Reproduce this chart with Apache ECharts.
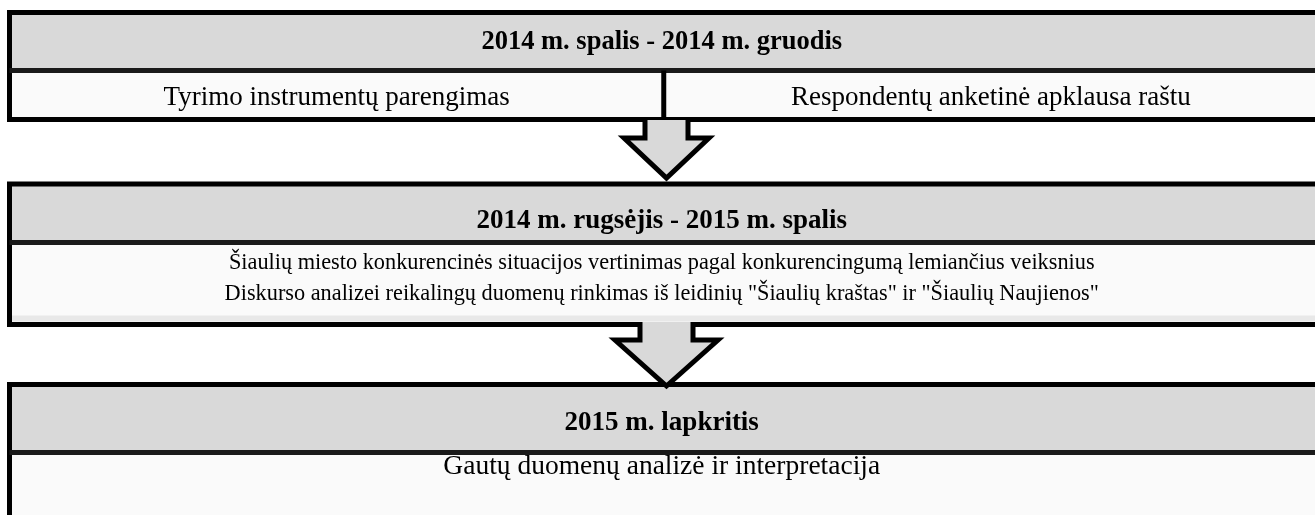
<!DOCTYPE html>
<html><head><meta charset="utf-8">
<script src="https://cdn.jsdelivr.net/npm/echarts@6/dist/echarts.min.js"></script>
<style>html,body{margin:0;padding:0;background:#fff}#c{width:1315px;height:515px}</style>
</head><body><div id="c"></div>
<script>
// ---- content ----
const periods = [
  '2014 m. spalis - 2014 m. gruodis',
  '2014 m. rugsėjis - 2015 m. spalis',
  '2015 m. lapkritis'
];
const stage1Tasks = ['Tyrimo instrumentų parengimas', 'Respondentų anketinė apklausa raštu'];
const stage2Tasks = [
  'Šiaulių miesto konkurencinės situacijos vertinimas pagal konkurencingumą lemiančius veiksnius',
  'Diskurso analizei reikalingų duomenų rinkimas iš leidinių "Šiaulių kraštas" ir "Šiaulių Naujienos"'
];
const stage3Tasks = ['Gautų duomenų analizė ir interpretacija'];
const stageTasks = [stage1Tasks, stage2Tasks, stage3Tasks];
const taskArrangement = ['columns', 'rows', 'rows'];
const arrows = [[0, 1], [1, 2]];

// ---- layout (axis units = px) ----
const L = {
  left: 9.5, right: 1318,
  top: [12.5, 184, 384.5],
  headSep: [70.5, 242.5, 452.5],
  bottom: [119.5, 324.5, 530],
  headTextY: [42.5, 221.5, 423.5],
  rowTextY: [[98], [263, 294], [467]],
  arrowShaft: [[645, 688], [640, 693]],
  arrowHead: [[624, 709], [615, 718]],
  arrowTop: [120, 322],
  arrowShoulder: [138, 340],
  arrowTip: [178, 386],
  arrowX: [666.5, 666.5]
};
// font sizes
const headSize = [26.5, 27, 27];
const rowSize = [[27, 27], [22.3, 22.3], [27.5]];
const FONT = '"Liberation Serif","Times New Roman",serif';
const BORDER = '#000';

function txt(text, x, y, size, bold) {
  return {type: 'text',
    style: {text: text, x: x, y: y, align: 'center', verticalAlign: 'middle',
      font: (bold ? 'bold ' : '') + size + 'px ' + FONT, fill: '#000'}};
}

function renderStage(params, api) {
  const i = api.value(0);
  const c = (x, y) => api.coord([x, y]);
  const [x0, y0] = c(L.left, L.top[i]);
  const [x1, yH] = c(L.right, L.headSep[i]);
  const y1 = c(L.right, L.bottom[i])[1];
  const ch = [];
  ch.push({type: 'rect', shape: {x: x0, y: y0, width: x1 - x0, height: yH - y0}, style: {fill: '#d9d9d9'}});
  ch.push({type: 'rect', shape: {x: x0, y: yH, width: x1 - x0, height: y1 - yH}, style: {fill: '#fafafa'}});
  if (i === 1) ch.push({type: 'rect', shape: {x: x0, y: y1 - 9, width: x1 - x0, height: 6}, style: {fill: '#e8e8e8'}});
  ch.push({type: 'rect', shape: {x: x0, y: y0, width: x1 - x0, height: y1 - y0}, style: {fill: null, stroke: BORDER, lineWidth: 5}});
  ch.push({type: 'line', shape: {x1: x0, y1: yH, x2: x1, y2: yH}, style: {stroke: '#1a1a1a', lineWidth: 5}});
  ch.push(txt(periods[i], (x0 + x1) / 2 - 2, c(0, L.headTextY[i])[1], headSize[i], true));
  const tasks = stageTasks[i];
  if (taskArrangement[i] === 'columns') {
    const n = tasks.length;
    for (let k = 0; k < n; k++) {
      const cx0 = x0 + (x1 - x0) * k / n, cx1 = x0 + (x1 - x0) * (k + 1) / n;
      if (k > 0) ch.push({type: 'line', shape: {x1: cx0, y1: yH, x2: cx0, y2: y1}, style: {stroke: BORDER, lineWidth: 5}});
      ch.push(txt(tasks[k], (cx0 + cx1) / 2, c(0, L.rowTextY[i][0])[1], rowSize[i][k], false));
    }
  } else {
    tasks.forEach((t, k) => {
      ch.push(txt(t, (x0 + x1) / 2 - 2, c(0, L.rowTextY[i][k])[1], rowSize[i][k], false));
    });
  }
  return {type: 'group', children: ch};
}

function renderArrow(params, api) {
  const a = api.value(0);
  const c = (x, y) => api.coord([x, y]);
  const [s0, s1] = L.arrowShaft[a], [h0, h1] = L.arrowHead[a];
  const pts = [
    c(s0, L.arrowTop[a]), c(s0, L.arrowShoulder[a]), c(h0, L.arrowShoulder[a]),
    c(L.arrowX[a], L.arrowTip[a]),
    c(h1, L.arrowShoulder[a]), c(s1, L.arrowShoulder[a]), c(s1, L.arrowTop[a])
  ];
  return {type: 'group', children: [
    {type: 'polygon', shape: {points: pts}, style: {fill: '#d9d9d9', stroke: null}},
    {type: 'polyline', shape: {points: pts}, style: {fill: null, stroke: '#000', lineWidth: 5, lineJoin: 'miter'}}
  ]};
}

const chart = echarts.init(document.getElementById('c'), null, {renderer: 'canvas'});
chart.setOption({
  animation: false,
  grid: {left: 0, right: 0, top: 0, bottom: 0},
  xAxis: {type: 'value', min: 0, max: 1315, show: false},
  yAxis: {type: 'value', min: 0, max: 515, inverse: true, show: false},
  series: [
    {type: 'custom', renderItem: renderStage, data: periods.map((p, i) => [i]), clip: true, z: 1},
    {type: 'custom', renderItem: renderArrow, data: arrows.map((p, i) => [i]), clip: true, z: 2}
  ]
});
</script></body></html>
